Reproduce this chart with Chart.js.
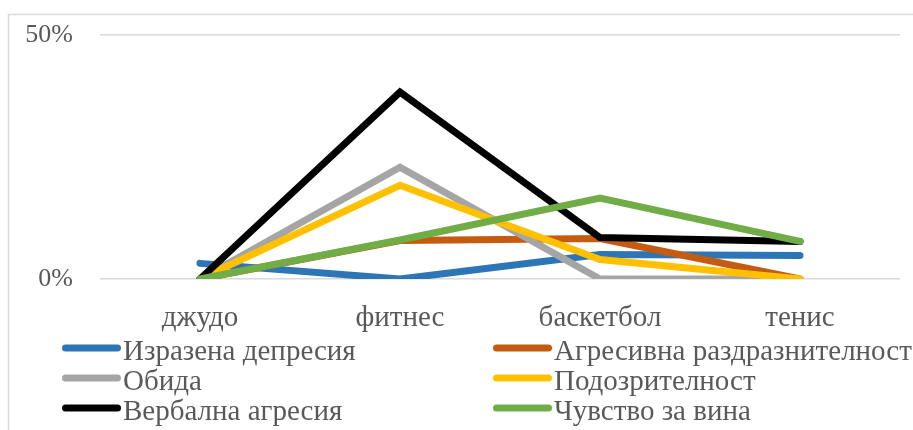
<!DOCTYPE html>
<html>
<head>
<meta charset="utf-8">
<script src="https://cdn.jsdelivr.net/npm/chart.js@4/dist/chart.umd.min.js"></script>
<style>
  html, body { margin: 0; padding: 0; background: #ffffff; }
  #wrap { width: 913px; height: 430px; position: relative; }
</style>
</head>
<body>
<div id="wrap"><canvas id="c" width="913" height="430"></canvas></div>
<script>
// Categories (sports) and values in percent
const categories = ['джудо', 'фитнес', 'баскетбол', 'тенис'];

const seriesNames = [
  'Изразена депресия',
  'Агресивна раздразнителност',
  'Обида',
  'Подозрителност',
  'Вербална агресия',
  'Чувство за вина'
];

const depression  = [3.2, 0, 5.0, 4.8];
const aggression  = [0, 7.9, 8.3, 0];
const resentment  = [0, 22.9, 0, 0];
const suspicion   = [0, 19.2, 4.0, 0];
const verbal      = [0, 38.3, 8.5, 7.7];
const guilt       = [0, 8.0, 16.6, 7.7];

const yTicks = [0, 50];

const seriesColors = ['#2E75B6', '#C55A11', '#A5A5A5', '#FFC000', '#000000', '#70AD47'];
const seriesValues = [depression, aggression, resentment, suspicion, verbal, guilt];

const FONT = "'Liberation Serif', 'Times New Roman', serif";
const TEXT = '#595959';
const LINE_W = 7;

// Outer frame around the chart
const framePlugin = {
  id: 'frame',
  beforeDraw(chart) {
    const ctx = chart.ctx;
    ctx.save();
    ctx.strokeStyle = '#d9d9d9';
    ctx.lineWidth = 1.5;
    ctx.strokeRect(8.5, 14.5, 1000, 1000);
    ctx.restore();
  }
};

// Two-column legend under the axis labels
const legendPlugin = {
  id: 'twoColLegend',
  afterDraw(chart) {
    const ctx = chart.ctx;
    const colX = [62, 493];
    const rowY = [348, 378, 408];
    ctx.save();
    ctx.font = '29px ' + FONT;
    ctx.textBaseline = 'alphabetic';
    ctx.textAlign = 'left';
    chart.data.datasets.forEach((ds, i) => {
      const x = colX[i % 2];
      const y = rowY[Math.floor(i / 2)];
      ctx.strokeStyle = ds.borderColor;
      ctx.lineWidth = LINE_W;
      ctx.lineCap = 'round';
      ctx.beginPath();
      ctx.moveTo(x + 3.5, y);
      ctx.lineTo(x + 55.5, y);
      ctx.stroke();
      ctx.fillStyle = TEXT;
      ctx.fillText(ds.label, x + 61, y + 12);
    });
    ctx.restore();
  }
};

new Chart(document.getElementById('c'), {
  type: 'line',
  data: {
    labels: categories,
    datasets: seriesNames.map((name, i) => ({
      label: name,
      data: seriesValues[i],
      order: seriesNames.length - 1 - i,
      borderColor: seriesColors[i],
      backgroundColor: seriesColors[i],
      borderWidth: LINE_W,
      borderCapStyle: 'round',
      borderJoinStyle: 'miter',
      pointRadius: 0,
      pointHoverRadius: 0,
      tension: 0,
      fill: false
    }))
  },
  options: {
    responsive: false,
    animation: false,
    devicePixelRatio: 1,
    layout: { padding: { top: 35, right: 13, left: 0, bottom: 0 } },
    plugins: {
      legend: { display: false },
      tooltip: { enabled: false }
    },
    scales: {
      x: {
        offset: true,
        grid: { display: false, drawTicks: false },
        border: { display: false },
        ticks: {
          color: TEXT,
          font: { family: FONT, size: 29 },
          padding: 22,
          maxRotation: 0
        },
        afterFit(scale) { scale.height = 151; }
      },
      y: {
        min: 0,
        max: 50,
        afterBuildTicks(scale) { scale.ticks = yTicks.map(v => ({ value: v })); },
        grid: {
          color: '#d9d9d9',
          lineWidth: 1.5,
          drawTicks: true,
          tickLength: 27,
          tickColor: 'rgba(0,0,0,0)'
        },
        border: { display: false },
        ticks: {
          color: TEXT,
          font: { family: FONT, size: 26 },
          padding: 0,
          callback: v => v + '%'
        },
        afterFit(scale) { scale.width = 100; }
      }
    }
  },
  plugins: [framePlugin, legendPlugin]
});
</script>
</body>
</html>
